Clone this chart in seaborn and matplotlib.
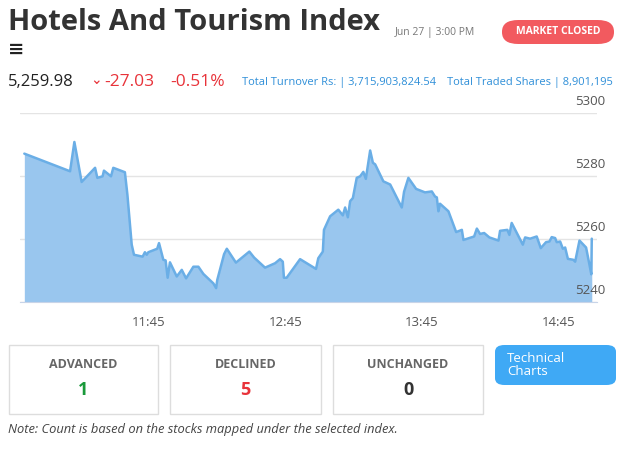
import matplotlib
matplotlib.use("Agg")
import matplotlib.pyplot as plt
from matplotlib.patches import FancyBboxPatch, Rectangle
import seaborn as sns
import pandas as pd

# minutes since midnight, index value
times = [650.2, 670.3, 672.2, 675.4, 681.3, 682.3, 684.6, 685.2, 688.3, 689.3, 694.4, 695.5,
         697.4, 698.4, 702.2, 703.2, 704.0, 704.7, 708.6, 709.4, 711.3, 712.3, 713.2, 714.2,
         717.2, 719.4, 721.3, 724.5, 726.7, 728.9, 733.3, 734.5, 735.0, 738.0, 739.2, 743.2,
         749.1, 751.2, 756.0, 760.4, 762.6, 763.8, 764.3, 765.5, 771.4, 778.4, 779.4, 781.4,
         781.9, 784.6, 788.2, 790.2, 791.2, 792.4, 793.4, 794.6, 796.3, 797.8, 799.2, 800.3,
         802.2, 803.4, 804.4, 808.0, 811.0, 816.1, 817.1, 819.0, 822.4, 826.3, 829.3, 830.7,
         831.5, 832.2, 832.9, 836.6, 840.0, 842.5, 843.2, 847.9, 849.1, 850.5, 852.3, 854.6,
         858.6, 859.3, 862.5, 863.4, 864.4, 869.3, 870.3, 872.5, 875.4, 877.2, 879.5, 881.0,
         882.0, 883.5, 884.2, 885.7, 886.9, 887.9, 889.1, 891.5, 892.3, 894.2, 897.1, 898.6,
         899.4, 899.6]
values = [5287.1, 5281.5, 5290.8, 5278.1, 5282.6, 5279.4, 5279.9, 5281.7, 5279.9, 5282.6, 5281.2, 5274.1,
          5258.2, 5255.0, 5254.4, 5255.8, 5255.0, 5255.8, 5256.9, 5258.7, 5253.4, 5253.2, 5247.7, 5252.6,
          5248.1, 5250.2, 5247.5, 5251.2, 5251.2, 5248.9, 5245.9, 5244.4, 5247.0, 5255.2, 5256.9, 5252.5,
          5256.0, 5254.1, 5250.9, 5252.3, 5253.6, 5252.8, 5247.7, 5247.7, 5253.6, 5250.5, 5253.9, 5256.0,
          5262.9, 5267.2, 5269.3, 5267.5, 5270.0, 5266.9, 5272.0, 5273.0, 5279.4, 5279.9, 5281.3, 5279.1,
          5288.1, 5284.2, 5283.7, 5278.3, 5277.3, 5270.0, 5275.0, 5279.4, 5275.9, 5274.8, 5275.1, 5273.5,
          5273.2, 5268.8, 5271.2, 5268.8, 5262.2, 5262.9, 5259.7, 5260.8, 5263.3, 5261.6, 5261.9, 5260.5,
          5259.5, 5262.6, 5262.9, 5261.3, 5265.1, 5258.2, 5260.5, 5260.1, 5260.8, 5257.1, 5259.0, 5259.2,
          5260.6, 5260.3, 5259.0, 5259.2, 5256.9, 5257.3, 5253.7, 5253.4, 5252.8, 5259.5, 5257.3, 5251.8,
          5248.8, 5260.1]
x_ticks = [705, 765, 825, 885]
x_labels = ["11:45", "12:45", "13:45", "14:45"]
y_ticks = [5240, 5260, 5280, 5300]

counts = [("ADVANCED", "1", "#1a9a3a"), ("DECLINED", "5", "#e8333a"), ("UNCHANGED", "0", "#333333")]

sns.set_style("white")
plt.rcParams["font.family"] = ["Open Sans", "DejaVu Sans"]

df = pd.DataFrame({"t": times, "v": values})
fig = plt.figure(figsize=(6.29, 4.5), dpi=100)
W, H = 629, 450

ax = fig.add_axes([20 / W, 1 - 302 / H, 577 / W, 189 / H])
ax.fill_between(df["t"], df["v"], 5240, color="#99c6ee", lw=0)
sns.lineplot(data=df, x="t", y="v", ax=ax, color="#6aaee6", lw=1.8)
ax.set_xlim(648.3, 901.9)
ax.set_ylim(5240, 5300)
ax.set_yticks(y_ticks)
ax.set_yticklabels([])
ax.tick_params(axis="y", length=0)
ax.grid(axis="y", color="#e4e4e4", lw=1)
ax.set_xticks(x_ticks)
ax.set_xticklabels(x_labels, color="#555555", fontsize=9.5)
ax.tick_params(axis="x", length=8, color="#c8d4e8", pad=2)
ax.set_xlabel("")
ax.set_ylabel("")
for s in ["top", "left", "right"]:
    ax.spines[s].set_visible(False)
ax.spines["bottom"].set_color("#c8d4e8")
for yv in y_ticks:
    ax.text(1.015, yv + 1.5, str(yv), transform=ax.get_yaxis_transform(), ha="right",
            va="bottom", fontsize=9.5, color="#555555")

# header
fig.text(8 / W, 1 - 22 / H, "Hotels And Tourism Index", fontsize=21, fontweight="bold",
         color="#333333", va="center")
fig.text(395 / W, 1 - 32 / H, "Jun 27 | 3:00 PM", fontsize=7.5, color="#777777", va="center")
fig.patches.append(FancyBboxPatch((502 / W, 1 - 44 / H), 112 / W, 24 / H,
                                  boxstyle="round,pad=0,rounding_size=0.026",
                                  transform=fig.transFigure, fc="#f25a5f", ec="none"))
fig.text(558 / W, 1 - 32 / H, "MARKET CLOSED", fontsize=7.5, color="white", ha="center",
         va="center", fontweight="bold")
fig.text(8 / W, 1 - 50 / H, "≡", fontsize=14, color="#222222", va="center", fontweight="bold")
fig.text(8 / W, 1 - 82 / H, "5,259.98", fontsize=12, color="#222222", va="center")
fig.text(90 / W, 1 - 80 / H, "⌄", fontsize=10, color="#e8333a", va="center")
fig.text(104 / W, 1 - 82 / H, "-27.03", fontsize=12.5, color="#e8333a", va="center")
fig.text(170 / W, 1 - 82 / H, "-0.51%", fontsize=12.5, color="#e8333a", va="center")
fig.text(242 / W, 1 - 82 / H, "Total Turnover Rs: | 3,715,903,824.54", fontsize=8,
         color="#2f8fd8", va="center")
fig.text(447 / W, 1 - 82 / H, "Total Traded Shares | 8,901,195", fontsize=8,
         color="#2f8fd8", va="center")

# count boxes
for i, (lab, num, col) in enumerate(counts):
    x0 = [9, 170, 333][i]
    w = [149, 151, 150][i]
    fig.patches.append(Rectangle((x0 / W, 1 - 414 / H), w / W, 69 / H,
                                 transform=fig.transFigure, fc="white", ec="#dddddd", lw=1))
    fig.text((x0 + w / 2) / W, 1 - 365 / H, lab, fontsize=9, fontweight="bold",
             color="#666666", ha="center", va="center")
    fig.text((x0 + w / 2) / W, 1 - 390 / H, num, fontsize=13, fontweight="bold",
             color=col, ha="center", va="center")
fig.patches.append(FancyBboxPatch((495 / W, 1 - 385 / H), 121 / W, 40 / H,
                                  boxstyle="round,pad=0,rounding_size=0.015",
                                  transform=fig.transFigure, fc="#3fa9f5", ec="none"))
fig.text(507 / W, 1 - 365 / H, "Technical\nCharts", fontsize=9.5, color="white",
         va="center", linespacing=1.0)
fig.text(8 / W, 1 - 430 / H, "Note: Count is based on the stocks mapped under the selected index.",
         fontsize=9.3, style="italic", color="#444444", va="center")

fig.savefig("out.png", dpi=100)
